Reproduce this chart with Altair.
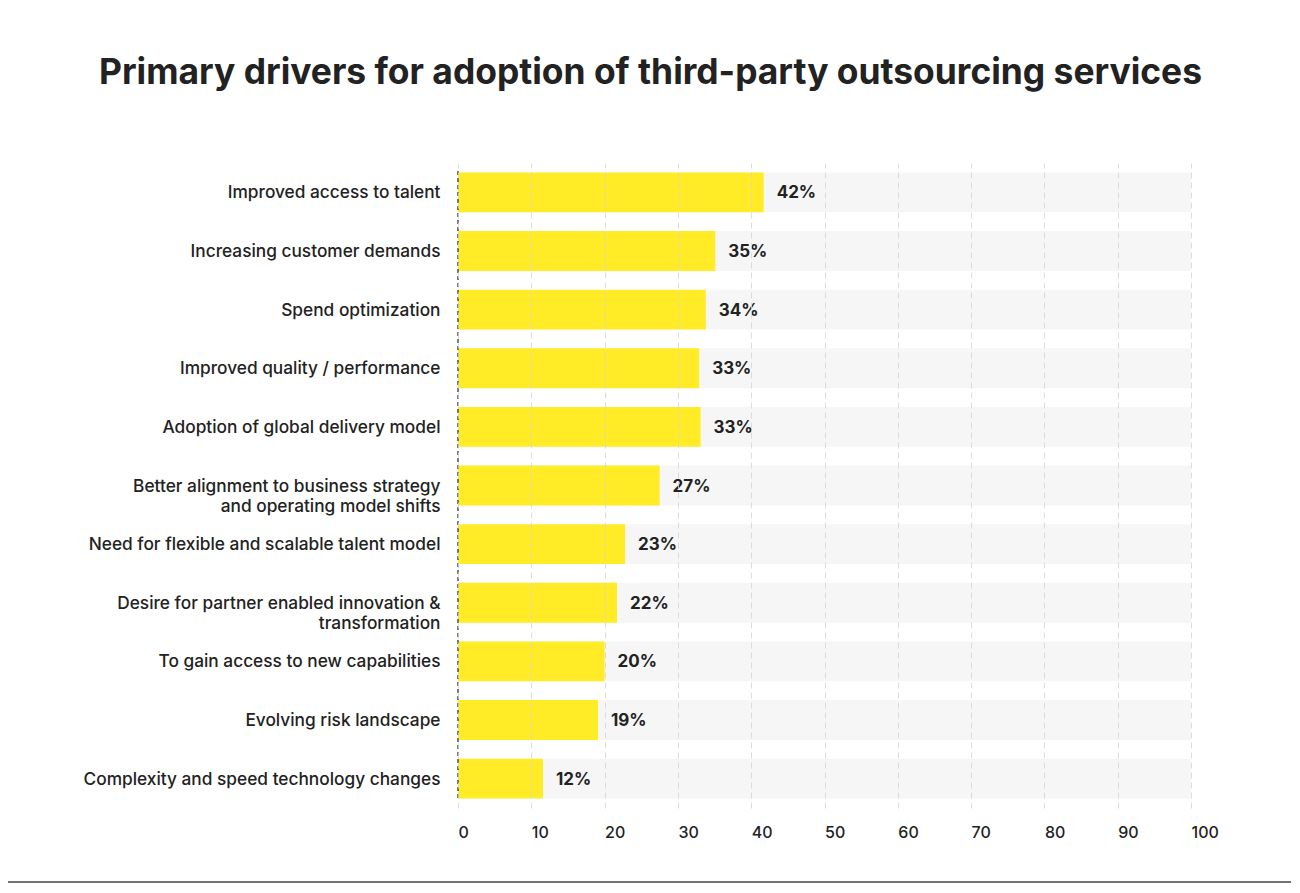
import altair as alt
import pandas as pd

categories = [
    "Improved access to talent",
    "Increasing customer demands",
    "Spend optimization",
    "Improved quality / performance",
    "Adoption of global delivery model",
    "Better alignment to business strategy \nand operating model shifts",
    "Need for flexible and scalable talent model",
    "Desire for partner enabled innovation &\ntransformation",
    "To gain access to new capabilities",
    "Evolving risk landscape",
    "Complexity and speed technology changes",
]
bar_values = [41.7, 35.1, 33.8, 32.9, 33.1, 27.5, 22.8, 21.7, 20.0, 19.1, 11.6]
label_values = [42, 35, 34, 33, 33, 27, 23, 22, 20, 19, 12]
x_ticks = [0, 10, 20, 30, 40, 50, 60, 70, 80, 90, 100]

df = pd.DataFrame({
    "cat": categories,
    "value": bar_values,
    "label": [f"{v}%" for v in label_values],
})

FONT = "Inter"
W, H = 733, 645

y_enc = alt.Y("cat:N", sort=categories,
              scale=alt.Scale(paddingInner=0.32, paddingOuter=0.16),
              axis=alt.Axis(title=None, domain=False, ticks=False, labelPadding=18,
                            labelFont=FONT, labelFontSize=17.3, labelColor="#222222",
                            labelFontWeight=500, labelLineHeight=20, labelLimit=500,
                            labelOffset=1,
                            labelExpr="split(datum.label, '\\n')"))

x_scale = alt.Scale(domain=[0, 100], nice=False)

base = alt.Chart(df)

bands = base.mark_bar(color="#f6f6f6").encode(
    y=y_enc,
    x=alt.X("zero:Q", scale=x_scale,
            axis=alt.Axis(title=None, values=x_ticks, domain=False, ticks=False,
                          grid=True, gridColor="#d4d4d4", gridDash=[6, 4], gridWidth=1,
                          gridOpacity=0.8, zindex=1,
                          labelAlign="left", labelBaseline="top", labelPadding=16,
                          labelFont=FONT, labelFontSize=16, labelColor="#222222",
                          labelFontWeight=500)),
    x2=alt.datum(100),
).transform_calculate(zero="0")

bars = base.mark_bar(color="#FFEC26").encode(
    y=alt.Y("cat:N", sort=categories),
    x=alt.X("value:Q", scale=x_scale),
)

labels = base.mark_text(align="left", baseline="middle", dx=13, dy=1, font=FONT,
                        fontSize=17, fontWeight="bold", color="#222222").encode(
    y=alt.Y("cat:N", sort=categories),
    x=alt.X("value:Q", scale=x_scale),
    text="label:N",
)

zero_line = alt.Chart(pd.DataFrame({"z": [0]})).mark_rule(
    color="#222222", strokeDash=[4, 3], strokeWidth=1.2).encode(
    x=alt.X("z:Q", scale=x_scale),
    y=alt.value(8), y2=alt.value(H - 8),
)

bottom_line = alt.Chart(pd.DataFrame({"z": [0]})).mark_rule(
    color="#444444", strokeWidth=1.5, clip=False).encode(
    x=alt.value(-450), x2=alt.value(850), y=alt.value(719),
)

chart = alt.layer(bands, bars, labels, zero_line, bottom_line).properties(
    width=W, height=H,
    title=alt.TitleParams(
        "Primary drivers for adoption of third-party outsourcing services",
        font=FONT, fontSize=35.4, fontWeight="bold", color="#222222",
        anchor="middle", frame="group", dx=-174, offset=44, baseline="alphabetic",
    ),
    padding={"left": 450, "top": 155, "right": 100, "bottom": 76},
    autosize=alt.AutoSizeParams(type="none"),
).configure(background="white").configure_view(stroke=None)

chart.save("out.html", embed_options={"renderer": "svg", "actions": False})
